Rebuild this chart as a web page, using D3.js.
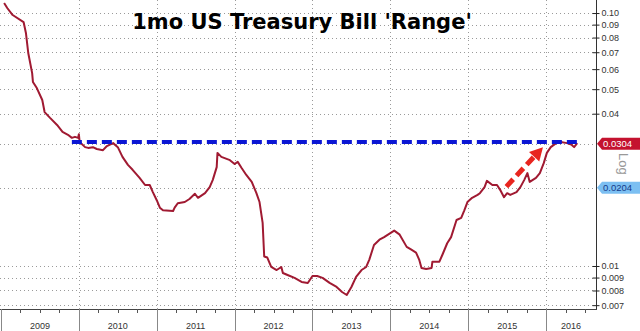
<!DOCTYPE html>
<html><head><meta charset="utf-8">
<script src="https://cdn.jsdelivr.net/npm/d3@7/dist/d3.min.js"></script>
<style>body{margin:0;background:#fff}svg{display:block}</style>
</head><body><svg id="c" width="640" height="331"></svg>
<script>
// ---- data ----
const dates = [2009.04,2009.08,2009.15,2009.29,2009.32,2009.35,2009.40,2009.41,2009.46,2009.53,2009.56,2009.63,2009.72,2009.79,2009.86,2009.91,2009.95,2009.99,2010.00,2010.01,2010.08,2010.12,2010.18,2010.23,2010.31,2010.36,2010.44,2010.50,2010.56,2010.63,2010.69,2010.78,2010.85,2010.91,2010.95,2011.00,2011.04,2011.08,2011.21,2011.23,2011.27,2011.36,2011.42,2011.49,2011.53,2011.62,2011.68,2011.72,2011.77,2011.78,2011.83,2011.94,2012.00,2012.04,2012.09,2012.15,2012.22,2012.28,2012.32,2012.36,2012.38,2012.42,2012.47,2012.54,2012.60,2012.62,2012.68,2012.77,2012.86,2012.94,2013.00,2013.06,2013.13,2013.22,2013.31,2013.38,2013.44,2013.50,2013.56,2013.63,2013.69,2013.73,2013.79,2013.86,2013.92,2014.05,2014.12,2014.21,2014.27,2014.33,2014.37,2014.40,2014.46,2014.53,2014.54,2014.63,2014.67,2014.73,2014.78,2014.85,2014.91,2014.95,2014.99,2015.05,2015.12,2015.15,2015.21,2015.24,2015.31,2015.37,2015.41,2015.46,2015.50,2015.54,2015.62,2015.67,2015.72,2015.76,2015.79,2015.87,2015.92,2015.97,2016.01,2016.06,2016.13,2016.19,2016.27,2016.33,2016.36,2016.40];
const yields = [0.1095,0.1047,0.0982,0.0921,0.0834,0.0695,0.0579,0.0534,0.0505,0.0453,0.0406,0.0385,0.0361,0.0339,0.0330,0.0321,0.0324,0.0321,0.0332,0.0309,0.0295,0.0293,0.0295,0.0290,0.0287,0.0298,0.0306,0.0295,0.0270,0.0251,0.0240,0.0223,0.0209,0.0209,0.0196,0.0182,0.0170,0.0166,0.0165,0.0170,0.0177,0.0179,0.0184,0.0193,0.0186,0.0194,0.0205,0.0219,0.0246,0.0280,0.0270,0.0262,0.0253,0.0258,0.0244,0.0229,0.0215,0.0194,0.0179,0.0148,0.0109,0.0108,0.00991,0.00964,0.00991,0.00938,0.00921,0.00897,0.00865,0.00857,0.00913,0.00913,0.00897,0.00857,0.00826,0.00789,0.00768,0.00826,0.00905,0.00964,0.00991,0.0106,0.0121,0.0127,0.0130,0.0138,0.0133,0.0119,0.0116,0.0113,0.0106,0.00982,0.00973,0.00982,0.0104,0.0104,0.0111,0.0123,0.0130,0.0152,0.0155,0.0166,0.0179,0.0186,0.0191,0.0194,0.0205,0.0217,0.0209,0.0209,0.0200,0.0187,0.0194,0.0191,0.0196,0.0205,0.0219,0.0233,0.0215,0.0223,0.0233,0.0255,0.0280,0.0295,0.0306,0.0309,0.0306,0.0301,0.0295,0.0306];
const years = [2009,2010,2011,2012,2013,2014,2015,2016];
const yTicks = [0.10,0.09,0.08,0.07,0.06,0.05,0.04,0.01,0.009,0.008,0.007];
const yTickLabels = ["0.10","0.09","0.08","0.07","0.06","0.05","0.04","0.01","0.009","0.008","0.007"];
const lastValue = 0.0304, lastLabel = "0.0304";
const refValue = 0.0204, refLabel = "0.0204";
const rangeLine = {from: 2009.91, to: 2016.42, value: 0.0309};
const arrow = {from: [2015.49, 0.0206], to: [2015.96, 0.0295]};
const title = "1mo US Treasury Bill 'Range'";

// ---- layout ----
const svg = d3.select("#c");
const plotL = 1, plotR = 596, plotT = 0, plotB = 309;
const x = d3.scaleLinear().domain([2009, 2016 + 50/78]).range([plotL, plotR]);
const y = d3.scaleLog().domain([0.00676, 0.1126]).range([plotB, plotT]);
const font = "'Liberation Sans', Arial, sans-serif";

svg.append("rect").attr("width",640).attr("height",331).attr("fill","#fff");

// horizontal dotted grid
const gridVals = yTicks.concat([lastValue, refValue]);
svg.append("g").selectAll("line").data(gridVals).join("line")
  .attr("x1", 0).attr("x2", plotR).attr("y1", d=>Math.round(y(d))+0.5).attr("y2", d=>Math.round(y(d))+0.5)
  .attr("stroke","#9a9a9a").attr("stroke-width",1).attr("stroke-dasharray","1,3");
// vertical dotted grid
svg.append("g").selectAll("line").data(years.slice(1)).join("line")
  .attr("x1", d=>Math.round(x(d))+0.5).attr("x2", d=>Math.round(x(d))+0.5).attr("y1", plotT).attr("y2", plotB)
  .attr("stroke","#9a9a9a").attr("stroke-width",1).attr("stroke-dasharray","1,3");

// title
svg.append("text").attr("x",302).attr("y",29).attr("text-anchor","middle")
  .attr("font-family","'DejaVu Sans', Verdana, sans-serif").attr("font-weight","bold").attr("font-size",21)
  .attr("fill","#000").text(title);

// bottom axis band
const xb = svg.append("g");
xb.append("line").attr("x1",0).attr("x2",plotR+1).attr("y1",plotB+0.5).attr("y2",plotB+0.5).attr("stroke","#444");
const quarters = [];
years.forEach(yr => [0.25,0.5,0.75].forEach(q => { if (yr+q < x.domain()[1]) quarters.push(yr+q); }));
xb.selectAll("line.q").data(quarters).join("line").attr("class","q")
  .attr("x1", d=>Math.round(x(d))+0.5).attr("x2", d=>Math.round(x(d))+0.5).attr("y1",plotB).attr("y2",plotB+4)
  .attr("stroke","#555");
xb.selectAll("line.s").data(years).join("line").attr("class","s")
  .attr("x1", d=>Math.round(x(d))+0.5).attr("x2", d=>Math.round(x(d))+0.5).attr("y1",plotB).attr("y2",331)
  .attr("stroke","#888");
xb.selectAll("text").data(years).join("text")
  .attr("x", d=> (x(d) + x(Math.min(d+1, x.domain()[1]))) / 2).attr("y", 329)
  .attr("text-anchor","middle").attr("font-family",font).attr("font-size",9).attr("fill","#333")
  .text(d=>d);

// right axis
const axis = d3.axisRight(y).tickValues(yTicks).tickFormat((d,i)=>yTickLabels[i]).tickSizeInner(3).tickSizeOuter(0).tickPadding(2);
const ag = svg.append("g").attr("transform",`translate(${plotR+0.5},0)`).call(axis);
ag.select(".domain").attr("stroke","#333").attr("d", `M0,${plotT}V${plotB}`);
ag.selectAll(".tick line").attr("x1",-4).attr("stroke","#222");
ag.selectAll(".tick text").attr("font-family",font).attr("font-size",9).attr("fill","#333");

// series line
const pts = dates.map((d,i)=>[d, yields[i]]);
svg.append("path").datum(pts)
  .attr("d", d3.line().x(d=>x(d[0])).y(d=>y(d[1])))
  .attr("fill","none").attr("stroke","#a01a32").attr("stroke-width",2).attr("stroke-linejoin","round");

// blue dashed range line
svg.append("line").attr("x1",x(rangeLine.from)).attr("x2",x(rangeLine.to))
  .attr("y1",y(rangeLine.value)).attr("y2",y(rangeLine.value))
  .attr("stroke","#0b16d4").attr("stroke-width",4).attr("stroke-dasharray","10,5");

// red dashed arrow
const ax1 = x(arrow.from[0]), ay1 = y(arrow.from[1]), ax2 = x(arrow.to[0]), ay2 = y(arrow.to[1]);
const ang = Math.atan2(ay2-ay1, ax2-ax1);
const headLen = 13, headW = 7;
const bx = ax2 - headLen*Math.cos(ang), by = ay2 - headLen*Math.sin(ang);
svg.append("line").attr("x1",ax1).attr("y1",ay1).attr("x2",bx).attr("y2",by)
  .attr("stroke","#e8251f").attr("stroke-width",5).attr("stroke-dasharray","10,5");
svg.append("path").attr("d", d3.line()([
  [ax2, ay2],
  [bx + headW*Math.sin(ang), by - headW*Math.cos(ang)],
  [bx - headW*Math.sin(ang), by + headW*Math.cos(ang)]
]) + "Z").attr("fill","#e8251f");

// value labels on right axis
function tag(v, label, fill, txt) {
  const yy = y(v);
  const g = svg.append("g");
  g.append("path").attr("d", `M${plotR+1},${yy} L${plotR+6},${yy-6} L640,${yy-6} L640,${yy+6} L${plotR+6},${yy+6} Z`).attr("fill", fill);
  g.append("text").attr("x", plotR+7).attr("y", yy+3.5).attr("font-family",font).attr("font-size",9.5)
    .attr("fill", txt).text(label);
}
tag(lastValue, lastLabel, "#c4122f", "#fff");
tag(refValue, refLabel, "#7cbff2", "#163b8a");

// Log label
svg.append("text").attr("transform","translate(619,153) rotate(90)")
  .attr("font-family",font).attr("font-size",13).attr("fill","#999").text("Log");
</script></body></html>
